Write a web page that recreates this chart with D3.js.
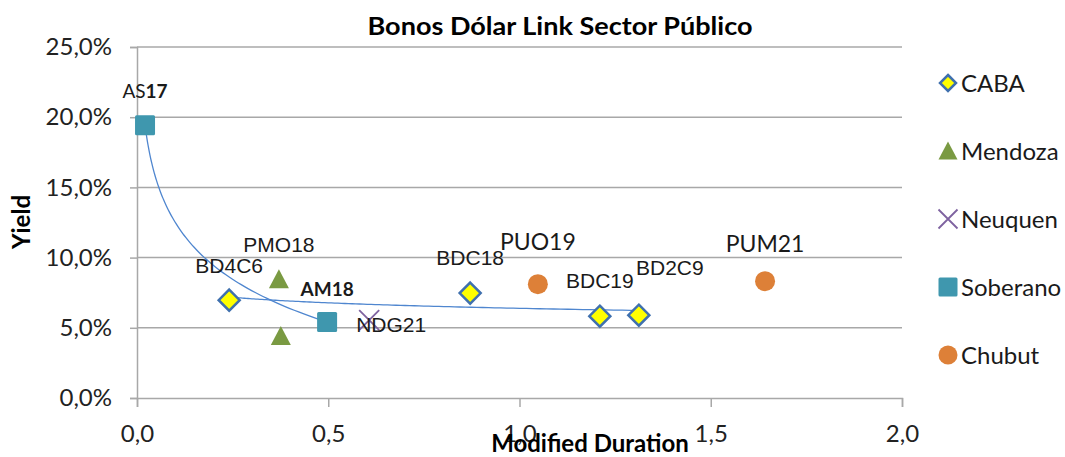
<!DOCTYPE html>
<html>
<head>
<meta charset="utf-8">
<script src="https://cdn.jsdelivr.net/npm/d3@7"></script>
<style>
  body { margin: 0; background: #fff; }
</style>
</head>
<body>
<div id="chart"></div>
<script>
(function(){
    const width = 1065;
    const height = 457;

    // Data
    const seriesNames = ["CABA", "Mendoza", "Neuquen", "Soberano", "Chubut"];

    const cabaBonds = ["BD4C6", "BDC18", "BDC19", "BD2C9"];
    const cabaDuration = [0.241, 0.871, 1.210, 1.312];
    const cabaYield = [6.97, 7.47, 5.83, 5.90];

    const mendozaBonds = ["PMO18", ""];
    const mendozaDuration = [0.371, 0.376];
    const mendozaYield = [8.46, 4.41];

    const neuquenBonds = ["NDG21"];
    const neuquenDuration = [0.607];
    const neuquenYield = [5.55];

    const soberanoBonds = ["AS17", "AM18"];
    const soberanoDuration = [0.021, 0.497];
    const soberanoYield = [19.42, 5.41];

    const chubutBonds = ["PUO19", "PUM21"];
    const chubutDuration = [1.048, 1.642];
    const chubutYield = [8.11, 8.32];

    const xTicks = [0, 0.5, 1, 1.5, 2];
    const yTicks = [0, 5, 10, 15, 20, 25];

    // Styles
    const colors = {
        CABA: "#FFFF00", Mendoza: "#7A9A42", Neuquen: "#7E62A0",
        Soberano: "#3F97AE", Chubut: "#DD8038"
    };
    const trendColor = "#4F86CF";
    const gridColor = "#A8A8A8";
    const calibri = "Lato, 'Open Sans', sans-serif";
    const arial = "'Liberation Sans', Arial, sans-serif";

    // label placement relative to its marker (dx, dy of baseline) and font
    const labelStyle = {
        AS17:  { dx: 0,  dy: -27, font: calibri, size: 19, weight: "normal" },
        AM18:  { dx: 0,  dy: -26, font: calibri, size: 19, weight: "bold" },
        BD4C6: { dx: 0,  dy: -27, font: arial, size: 21, weight: "normal" },
        PMO18: { dx: 0,  dy: -27, font: arial, size: 21, weight: "normal" },
        NDG21: { dx: 22, dy: 12,  font: arial, size: 21, weight: "normal" },
        BDC18: { dx: 0,  dy: -28, font: arial, size: 21, weight: "normal" },
        PUO19: { dx: 0,  dy: -34, font: calibri, size: 23, weight: "normal" },
        BDC19: { dx: 0,  dy: -28, font: arial, size: 21, weight: "normal" },
        BD2C9: { dx: 31, dy: -40, font: arial, size: 21, weight: "normal" },
        PUM21: { dx: 0,  dy: -29, font: calibri, size: 23, weight: "normal" }
    };

    const series = [
        { name: "CABA", bonds: cabaBonds, xs: cabaDuration, ys: cabaYield, trend: true },
        { name: "Mendoza", bonds: mendozaBonds, xs: mendozaDuration, ys: mendozaYield },
        { name: "Neuquen", bonds: neuquenBonds, xs: neuquenDuration, ys: neuquenYield },
        { name: "Soberano", bonds: soberanoBonds, xs: soberanoDuration, ys: soberanoYield, trend: true },
        { name: "Chubut", bonds: chubutBonds, xs: chubutDuration, ys: chubutYield }
    ];

    const svg = d3.select("#chart")
        .append("svg")
        .attr("width", width)
        .attr("height", height)
        .style("background", "#fff");

    const x = d3.scaleLinear().domain([0, 2]).range([137, 902]);
    const y = d3.scaleLinear().domain([0, 25]).range([398, 47]);

    const fmt = v => d3.format(".1f")(v).replace(".", ",");

    // Gridlines
    svg.append("g")
        .selectAll("line")
        .data(yTicks.filter(d => d > 0))
        .enter()
        .append("line")
        .attr("x1", x(0)).attr("x2", x(2))
        .attr("y1", d => y(d)).attr("y2", d => y(d))
        .style("stroke", gridColor)
        .style("stroke-width", "1.5px");

    // Y axis
    const yAxis = svg.append("g")
        .attr("transform", `translate(${x(0)},0)`)
        .call(d3.axisLeft(y).tickValues(yTicks).tickSize(7).tickPadding(18)
            .tickFormat(d => fmt(d) + "%"));
    yAxis.select(".domain").style("stroke", gridColor).style("stroke-width", "1.5px");
    yAxis.selectAll(".tick line").style("stroke", gridColor).style("stroke-width", "1.5px");
    yAxis.selectAll(".tick text")
        .style("font-family", calibri)
        .style("font-size", "24px")
        .style("fill", "#222");

    // X axis
    const xAxis = svg.append("g")
        .attr("transform", `translate(0,${y(0)})`)
        .call(d3.axisBottom(x).tickValues(xTicks).tickSize(9).tickPadding(18)
            .tickFormat(fmt));
    xAxis.select(".domain").style("stroke", gridColor).style("stroke-width", "1.5px");
    xAxis.selectAll(".tick line").style("stroke", gridColor).style("stroke-width", "1.5px");
    xAxis.selectAll(".tick text")
        .style("font-family", calibri)
        .style("font-size", "24px")
        .style("fill", "#222");

    // Logarithmic trendlines (Excel style)
    function logFit(xs, ys) {
        const lx = xs.map(Math.log);
        const mx = d3.mean(lx), my = d3.mean(ys);
        let sxy = 0, sxx = 0;
        lx.forEach((v, i) => { sxy += (v - mx) * (ys[i] - my); sxx += (v - mx) * (v - mx); });
        const b = sxy / sxx;
        return { a: my - b * mx, b: b };
    }

    const line = d3.line().x(d => x(d[0])).y(d => y(d[1]));

    series.filter(s => s.trend).forEach(s => {
        const fit = logFit(s.xs, s.ys);
        const [lo, hi] = d3.extent(s.xs);
        const pts = d3.range(0, 101).map(i => {
            const t = lo * Math.pow(hi / lo, i / 100);
            return [t, fit.a + fit.b * Math.log(t)];
        });
        svg.append("path")
            .attr("d", line(pts))
            .style("fill", "none")
            .style("stroke", trendColor)
            .style("stroke-width", "1.3px");
    });

    // Markers
    function drawMarker(g, name, s) {
        if (name === "CABA") {
            g.append("path")
                .attr("d", `M0,${-s}L${s},0L0,${s}L${-s},0Z`)
                .style("fill", colors.CABA)
                .style("stroke", "#3F70AE")
                .style("stroke-width", "2.5px");
        } else if (name === "Mendoza") {
            g.append("path")
                .attr("d", `M0,${-s}L${s},${s * 0.9}L${-s},${s * 0.9}Z`)
                .style("fill", colors.Mendoza);
        } else if (name === "Neuquen") {
            g.append("path")
                .attr("d", `M${-s},${-s}L${s},${s}M${-s},${s}L${s},${-s}`)
                .style("stroke", colors.Neuquen)
                .style("stroke-width", "1.8px");
        } else if (name === "Soberano") {
            g.append("rect")
                .attr("x", -s).attr("y", -s)
                .attr("width", 2 * s).attr("height", 2 * s)
                .attr("rx", 1.5)
                .style("fill", colors.Soberano);
        } else {
            g.append("circle").attr("r", s).style("fill", colors.Chubut);
        }
    }

    series.forEach(s => {
        s.xs.forEach((d, i) => {
            const g = svg.append("g")
                .attr("transform", `translate(${x(d)},${y(s.ys[i])})`);
            drawMarker(g, s.name, s.name === "CABA" ? 10.5 : 10);
        });
    });

    // Data labels
    series.forEach(s => {
        s.bonds.forEach((b, i) => {
            if (!b) return;
            const st = labelStyle[b];
            const t = svg.append("text")
                .attr("x", x(s.xs[i]) + st.dx)
                .attr("y", y(s.ys[i]) + st.dy)
                .attr("text-anchor", "middle")
                .style("font-family", st.font)
                .style("font-size", st.size + "px")
                .style("font-weight", st.weight)
                .style("fill", "#1a1a1a");
            if (b === "AS17") {
                // letters drawn light, digits bold, as in the source
                t.append("tspan").text("AS");
                t.append("tspan").style("font-weight", "bold").text("17");
            } else {
                t.text(b);
            }
        });
    });

    // Title
    svg.append("text")
        .attr("x", 560)
        .attr("y", 35)
        .attr("text-anchor", "middle")
        .attr("textLength", 385)
        .attr("lengthAdjust", "spacingAndGlyphs")
        .style("font-family", calibri)
        .style("font-size", "25px")
        .style("font-weight", "bold")
        .style("fill", "#000")
        .text("Bonos Dólar Link Sector Público");

    // Axis titles
    svg.append("text")
        .attr("x", 590)
        .attr("y", 452)
        .attr("text-anchor", "middle")
        .style("font-family", calibri)
        .style("font-size", "24px")
        .style("font-weight", "bold")
        .style("fill", "#000")
        .text("Modified Duration");

    svg.append("text")
        .attr("transform", "translate(30,222) rotate(-90)")
        .attr("text-anchor", "middle")
        .style("font-family", calibri)
        .style("font-size", "24px")
        .style("font-weight", "bold")
        .style("fill", "#000")
        .text("Yield");

    // Legend
    const legend = svg.append("g");
    seriesNames.forEach((n, i) => {
        const ly = 83 + i * 68;
        const g = legend.append("g").attr("transform", `translate(948,${ly})`);
        drawMarker(g, n, n === "CABA" ? 8 : 9.5);
        legend.append("text")
            .attr("x", 961)
            .attr("y", ly + 8.5)
            .style("font-family", calibri)
            .style("font-size", "24px")
            .style("fill", "#1a1a1a")
            .text(n);
    });
})();
</script>
</body>
</html>
